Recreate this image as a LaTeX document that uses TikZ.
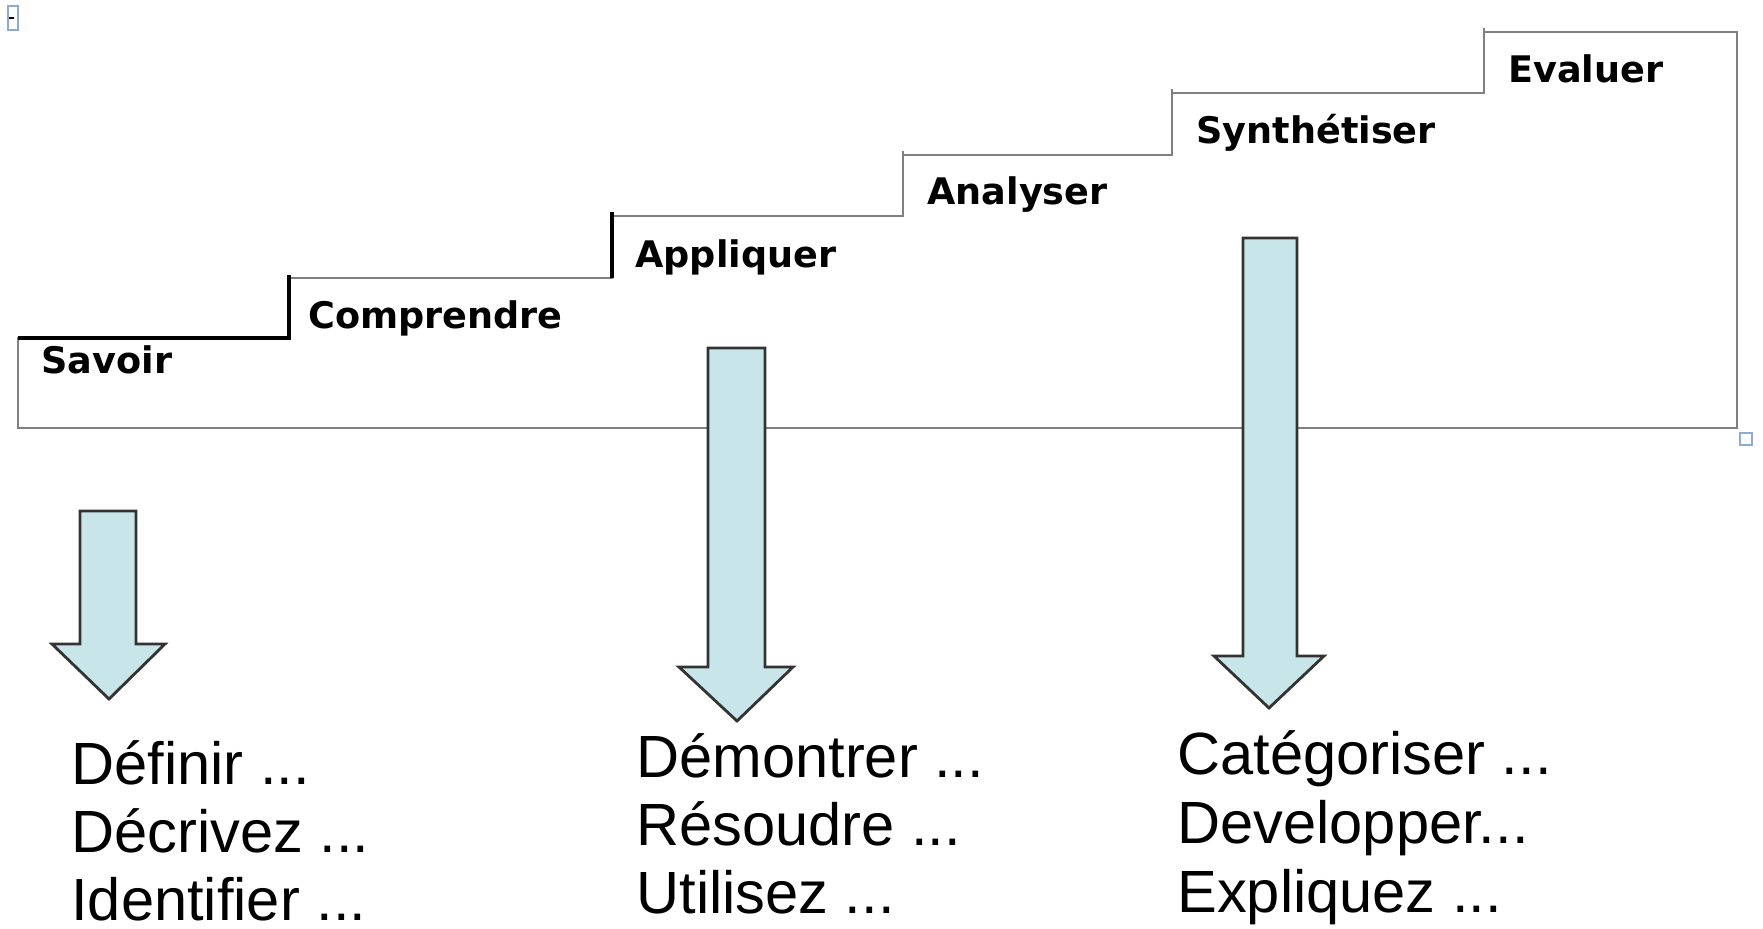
\documentclass[tikz,border=0pt]{standalone}
\usepackage{fontspec}
\setmainfont{Liberation Sans}
\newfontfamily\stepfont{DejaVu Sans}
\usepackage{tikz}
\usetikzlibrary{calc}

\definecolor{stairgray}{RGB}{128,128,128}
\definecolor{arrowfill}{RGB}{200,230,233}
\definecolor{handleblue}{RGB}{140,170,215}

\tikzset{
  stair/.style={stairgray, line width=1.4pt},
  darkstair/.style={black, line width=1.6pt},
  level/.style={anchor=base west, inner sep=0pt, font=\stepfont\bfseries\fontsize{18.3}{20}\selectfont},
  verb/.style={anchor=base west, inner sep=0pt, font=\fontsize{29.8}{32}\selectfont},
  bigarrow/.style={fill=arrowfill, draw=black!80, line width=1.4pt, line join=miter},
  handle/.style={draw=handleblue, line width=0.8pt, fill=white},
}

\begin{document}
\begin{tikzpicture}[x=0.5pt,y=-0.5pt]
            \useasboundingbox (0,0) rectangle (1763,928);
            % staircase corners
            \coordinate (s0) at (18,428);
            \coordinate (s1) at (18,338);
            \coordinate (s2) at (289,338);
            \coordinate (s3) at (289,278);
            \coordinate (s4) at (612,278);
            \coordinate (s5) at (612,216);
            \coordinate (s6) at (903,216);
            \coordinate (s7) at (903,155);
            \coordinate (s8) at (1172,155);
            \coordinate (s9) at (1172,93);
            \coordinate (s10) at (1484,93);
            \coordinate (s11) at (1484,32);
            \coordinate (s12) at (1737,32);
            \coordinate (s13) at (1737,428);
            \draw[stair](s0)--(s1)--(s2)--(s3)--(s4)--(s5)--(s6)--(s7)--(s8)--(s9)--(s10)--(s11)--(s12)--(s13)--cycle;
            \draw[stair](s7)--($(s7)+(0,-4)$) (s9)--($(s9)+(0,-4)$) (s11)--($(s11)+(0,-4)$);
            \draw[darkstair](s1)--(s2)--($(s3)+(0,-3)$);
            \draw[darkstair](s4)--($(s5)+(0,-4)$);
            % levels
            \node[level] (savoir) at (41,373) {Savoir};
            \node[level] (comprendre) at (308,328) {Comprendre};
            \node[level] (appliquer) at (635,267) {Appliquer};
            \node[level] (analyser) at (927,204) {Analyser};
            \node[level] (synthese) at (1196,143) {Synthétiser};
            \node[level] (evaluer) at (1508,82) {Evaluer};
            % arrows
            \draw[bigarrow](80,511)--(136,511)--(136,644)--(165,644)--(109,699)--(52,644)--(80,644)--cycle;
            \draw[bigarrow](708,348)--(765,348)--(765,667)--(793,667)--(737,721)--(679,667)--(708,667)--cycle;
            \draw[bigarrow](1243,238)--(1297,238)--(1297,656)--(1324,656)--(1269,708)--(1214,656)--(1243,656)--cycle;
            % verbs
            \node[verb] (definir) at (71,784) {Définir ...};
            \node[verb] (decrire) at (71,852) {Décrivez ...};
            \node[verb] (identifier) at (71,920) {Identifier ...};
            \node[verb] (demontrer) at (636,777) {Démontrer ...};
            \node[verb] (resoudre) at (636,845) {Résoudre ...};
            \node[verb] (utiliser) at (636,913) {Utilisez ...};
            \node[verb] (categoriser) at (1177,774) {Catégoriser ...};
            \node[verb] (developper) at (1177,843) {Developper...};
            \node[verb] (expliquer) at (1177,912) {Expliquez ...};
            % selection handles
            \draw[handle](8,6) rectangle (18,30);
            \draw[black, line width=1pt](9,18)--(14,18);
            \draw[handle](1740,433) rectangle (1752,445);
        \end{tikzpicture}
\end{document}
